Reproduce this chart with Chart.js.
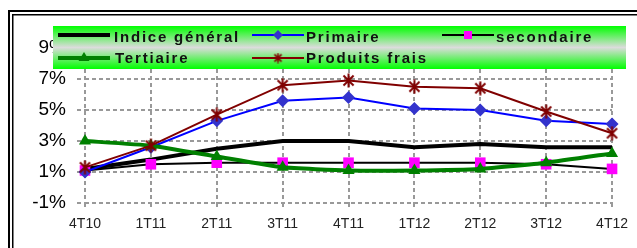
<!DOCTYPE html>
<html><head><meta charset="utf-8">
<script src="https://cdn.jsdelivr.net/npm/chart.js@4"></script>
<style>html,body{margin:0;padding:0;background:#fff;overflow:hidden}canvas{display:block}</style>
</head><body>
<canvas id="c" width="637" height="248"></canvas>
<script>
const categories = ['4T10','1T11','2T11','3T11','4T11','1T12','2T12','3T12','4T12'];
const indiceGeneral = [1.2, 1.8, 2.5, 3.0, 3.0, 2.6, 2.8, 2.6, 2.6];
const primaire      = [1.0, 2.6, 4.3, 5.6, 5.8, 5.1, 5.0, 4.3, 4.1];
const secondaire    = [1.1, 1.5, 1.6, 1.6, 1.6, 1.6, 1.6, 1.5, 1.2];
const tertiaire     = [3.0, 2.7, 2.0, 1.3, 1.1, 1.1, 1.2, 1.6, 2.2];
const produitsFrais = [1.3, 2.7, 4.7, 6.6, 6.9, 6.5, 6.4, 4.9, 3.5];
const yTickValues = [-1, 1, 3, 5, 7, 9];
const yTickLabels = ['-1%', '1%', '3%', '5%', '7%', '9%'];
const seriesNames = ['Indice général', 'Primaire', 'secondaire', 'Tertiaire', 'Produits frais'];

function makeStar(size, color, lw) {
  const c = document.createElement('canvas');
  c.width = c.height = size;
  const g = c.getContext('2d');
  g.strokeStyle = color; g.lineWidth = lw; g.lineCap = 'butt';
  const m = size / 2, r = size / 2 - 0.5, d = r * 0.72;
  g.beginPath();
  g.moveTo(m, m - r); g.lineTo(m, m + r);
  g.moveTo(m - d, m - d); g.lineTo(m + d, m + d);
  g.moveTo(m + d, m - d); g.lineTo(m - d, m + d);
  g.stroke();
  return c;
}
const starBig = makeStar(15, '#800000', 2);
const starSmall = makeStar(11, '#800000', 1.6);

const FONT = '"Liberation Sans", Arial, sans-serif';

function drawLegend(ctx) {
  const x0 = 53, y0 = 26, x1 = 626, y1 = 69;
  const g = ctx.createLinearGradient(0, y0, 0, y1);
  g.addColorStop(0, '#00ff00');
  g.addColorStop(0.5, '#dcdcdc');
  g.addColorStop(1, '#00ff00');
  ctx.save();
  ctx.fillStyle = g;
  ctx.fillRect(x0, y0, x1 - x0, y1 - y0);
  const items = [
    {name: seriesNames[0], lx: 58, tx: 114, ly: 35, ty: 41.5, color: '#000', lw: 4, m: null},
    {name: seriesNames[1], lx: 252, tx: 306, ly: 35, ty: 41.5, color: '#0000ff', lw: 2, m: 'diamond'},
    {name: seriesNames[2], lx: 442, tx: 496, ly: 35, ty: 41.5, color: '#000', lw: 2, m: 'square'},
    {name: seriesNames[3], lx: 58, tx: 115, ly: 58, ty: 63.3, color: '#008000', lw: 4, m: 'triangle'},
    {name: seriesNames[4], lx: 252, tx: 306, ly: 58, ty: 63.3, color: '#800000', lw: 2, m: 'star'}
  ];
  items.forEach(it => {
    ctx.strokeStyle = it.color; ctx.lineWidth = it.lw;
    ctx.beginPath(); ctx.moveTo(it.lx, it.ly); ctx.lineTo(it.lx + 52, it.ly); ctx.stroke();
    const cx = it.lx + 26, cy = it.ly;
    if (it.m === 'diamond') {
      ctx.fillStyle = '#3333cc';
      ctx.beginPath(); ctx.moveTo(cx, cy - 5); ctx.lineTo(cx + 5, cy); ctx.lineTo(cx, cy + 5); ctx.lineTo(cx - 5, cy); ctx.closePath(); ctx.fill();
    } else if (it.m === 'square') {
      ctx.fillStyle = '#ff00ff';
      ctx.fillRect(cx - 4, cy - 4, 8, 8);
    } else if (it.m === 'triangle') {
      ctx.fillStyle = '#008000';
      ctx.beginPath(); ctx.moveTo(cx, cy - 6); ctx.lineTo(cx + 5.5, cy + 3); ctx.lineTo(cx - 5.5, cy + 3); ctx.closePath(); ctx.fill();
    } else if (it.m === 'star') {
      ctx.drawImage(starSmall, cx - 5.5, cy - 5.5);
    }
    ctx.fillStyle = '#111';
    ctx.font = 'bold 15px ' + FONT;
    ctx.letterSpacing = '1.8px';
    ctx.textBaseline = 'alphabetic';
    ctx.textAlign = 'left';
    ctx.fillText(it.name, it.tx, it.ty);
  });
  ctx.restore();
}

const decor = {
  id: 'decor',
  beforeDraw(chart) {
    const ctx = chart.ctx;
    ctx.save();
    ctx.fillStyle = '#fff';
    ctx.fillRect(0, 0, chart.width, chart.height);
    ctx.strokeStyle = '#000';
    ctx.lineWidth = 2;
    ctx.strokeRect(9, 11, 700, 400);
    ctx.lineWidth = 1.5;
    ctx.strokeRect(12.75, 14.75, 700, 400);
    ctx.restore();
  },
  afterDraw(chart) {
    drawLegend(chart.ctx);
  }
};

const gridDash = [4, 3];

new Chart(document.getElementById('c'), {
  type: 'line',
  data: {
    labels: categories,
    datasets: [
      {label: seriesNames[0], data: indiceGeneral, borderColor: '#000', borderWidth: 4, pointRadius: 0, order: 5, clip: false},
      {label: seriesNames[1], data: primaire, borderColor: '#0000ff', borderWidth: 2, pointStyle: 'rectRot', pointRadius: 6.5, pointBackgroundColor: '#3333cc', pointBorderColor: '#3333cc', pointBorderWidth: 0, order: 3, clip: false},
      {label: seriesNames[2], data: secondaire, borderColor: '#000', borderWidth: 2, pointStyle: 'rect', pointRadius: 7.5, pointBackgroundColor: '#ff00ff', pointBorderColor: '#ff00ff', pointBorderWidth: 0, order: 4, clip: false},
      {label: seriesNames[3], data: tertiaire, borderColor: '#008000', borderWidth: 4, tension: 0.15, pointStyle: 'triangle', pointRadius: 7, pointBackgroundColor: '#008000', pointBorderColor: '#008000', pointBorderWidth: 0, order: 2, clip: false},
      {label: seriesNames[4], data: produitsFrais, borderColor: '#800000', borderWidth: 2, pointStyle: starBig, pointRadius: 7, order: 1, clip: false}
    ]
  },
  options: {
    responsive: false,
    animation: false,
    devicePixelRatio: 1,
    layout: {padding: {top: 48, right: 23, bottom: 0, left: 0}},
    plugins: {legend: {display: false}, tooltip: {enabled: false}},
    scales: {
      x: {
        type: 'category',
        offset: false,
        afterFit(s) { s.height = 45; },
        border: {display: false, dash: gridDash},
        grid: {color: '#999', lineWidth: 2, tickLength: 4, tickBorderDash: gridDash, drawOnChartArea: true},
        ticks: {font: {family: FONT, size: 14}, color: '#222', padding: 9, maxRotation: 0, autoSkip: false}
      },
      y: {
        min: -1, max: 9,
        afterFit(s) { s.width = 85; },
        afterBuildTicks(s) { s.ticks = yTickValues.map(v => ({value: v})); },
        border: {display: false, dash: gridDash},
        grid: {color: '#999', lineWidth: 2, tickLength: 8, tickBorderDash: gridDash},
        ticks: {
          font: {family: FONT, size: 19}, color: '#000', padding: 11,
          callback: v => yTickLabels[yTickValues.indexOf(v)]
        }
      }
    }
  },
  plugins: [decor]
});
</script>
</body></html>
